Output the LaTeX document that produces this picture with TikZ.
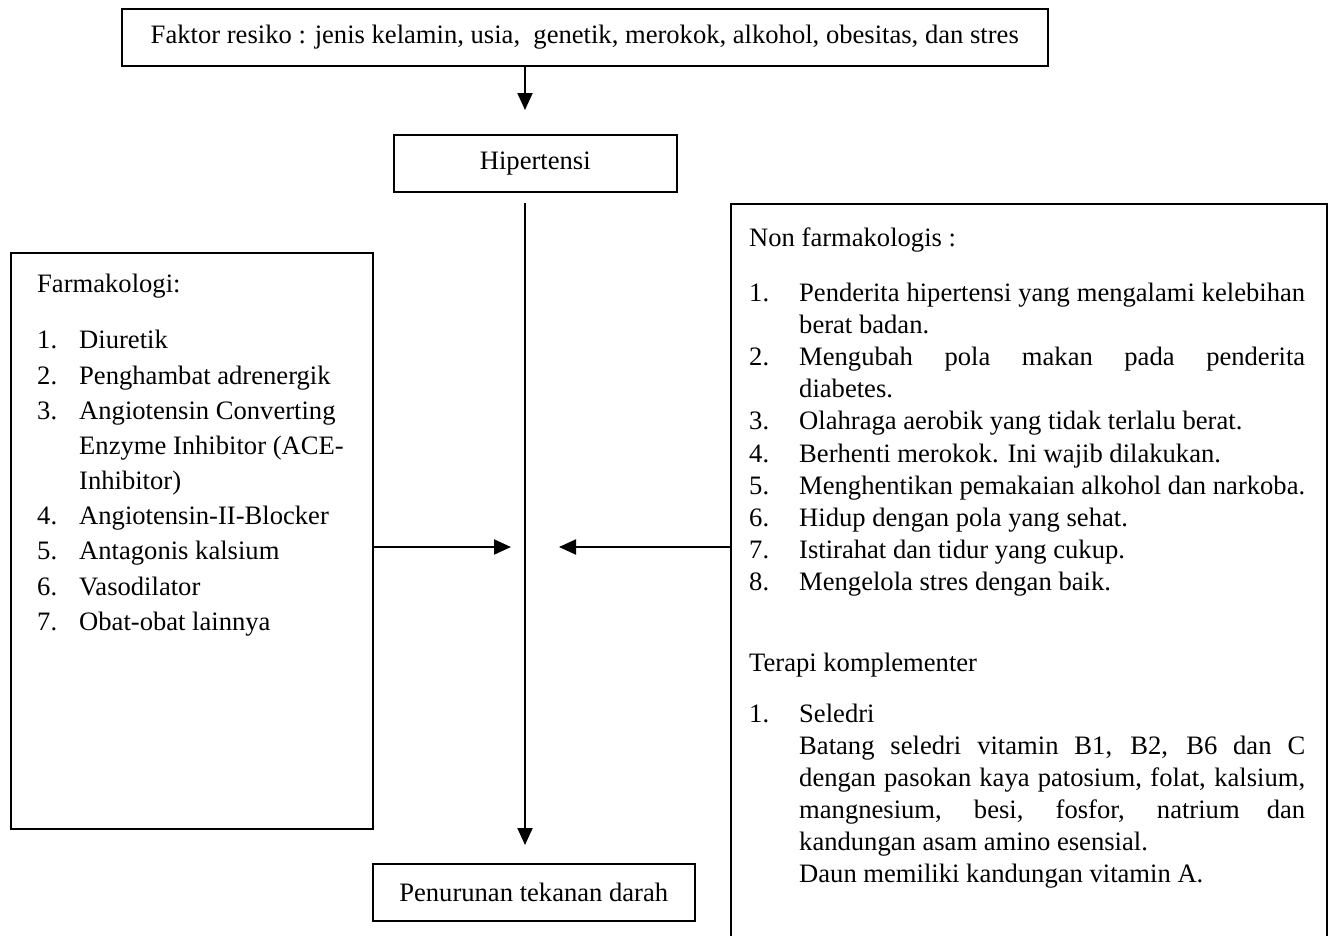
\documentclass[tikz,border=0pt]{standalone}
\usepackage{fontspec}
\setmainfont{Liberation Serif}
\usetikzlibrary{positioning,arrows.meta}
\tikzset{
  box/.style={rectangle, draw=black, line width=1.5pt, inner sep=0pt, anchor=north west, font=\fontsize{26.6}{32}\selectfont},
  txt/.style={anchor=base west, inner sep=0pt, font=\fontsize{26.6}{32}\selectfont},
  arr/.style={draw=black, line width=2pt, -{Triangle[length=17pt,width=15pt]}}
}
\begin{document}
\begin{tikzpicture}[x=1pt, y=-1pt]
  \useasboundingbox (0,0) rectangle (1333,935);
  % boxes
  \node[box, minimum width=926pt, minimum height=57pt] (risk) at (121,8) {Faktor resiko : jenis kelamin, usia,\ \ genetik, merokok, alkohol, obesitas, dan stres};
  \node[box, minimum width=283pt, minimum height=57pt] (hip) at (393,134) {Hipertensi};
  \node[box, minimum width=362pt, minimum height=576pt] (farm) at (10,252) {};
  \node[box, minimum width=596pt, minimum height=760pt] (nonf) at (730,203) {};
  \node[box, minimum width=322pt, minimum height=57pt] (pen) at (372,863) {Penurunan tekanan darah};
  % arrows
  \coordinate (tip1) at (525,110);
  \coordinate (vtop) at (525,203);
  \coordinate (vbot) at (525,845);
  \coordinate (lin) at (511,547);
  \coordinate (rin) at (559,547);
  \draw[arr] (risk.south -| tip1) -- (tip1);
  \draw[arr] (vtop) -- (vbot);
  \draw[arr] (farm.east |- lin) -- (lin);
  \draw[arr] (nonf.west |- rin) -- (rin);
  % farmakologi
  \node[txt] (fhead) at (37,292) {Farmakologi:};
  \foreach \y/\n/\t [count=\i] in {348/1./Diuretik, 384/2./Penghambat adrenergik,
      419/3./Angiotensin Converting, 524/4./Angiotensin-II-Blocker,
      559/5./Antagonis kalsium, 595/6./Vasodilator, 630/7./Obat-obat lainnya} {
    \node[txt] (fn\i) at (37,\y) {\n};
    \node[txt] (ft\i) at (79,\y) {\t};
  }
  \node[txt] (ft3b) at (79,454) {Enzyme Inhibitor (ACE-};
  \node[txt] (ft3c) at (79,489) {Inhibitor)};
  % non farmakologis
  \node[txt] (nhead) at (749,246) {Non farmakologis :};
  \foreach \y/\n [count=\i] in {301/1., 365/2., 429/3., 462/4., 494/5., 526/6., 558/7., 590/8.}
    \node[txt] (nn\i) at (749,\y) {\n};
  \foreach \y/\t [count=\i] in {
      301/{\makebox[506pt][s]{Penderita hipertensi yang mengalami kelebihan}},
      333/berat badan.,
      365/{\makebox[506pt][s]{Mengubah pola makan pada penderita}},
      397/diabetes.,
      429/Olahraga aerobik yang tidak terlalu berat.,
      462/Berhenti merokok. Ini wajib dilakukan.,
      494/Menghentikan pemakaian alkohol dan narkoba.,
      526/Hidup dengan pola yang sehat.,
      558/Istirahat dan tidur yang cukup.,
      590/Mengelola stres dengan baik.}
    \node[txt] (nt\i) at (799,\y) {\t};
  % terapi komplementer
  \node[txt] (thead) at (749,671) {Terapi komplementer};
  \node[txt] (tn1) at (749,722) {1.};
  \foreach \y/\t [count=\i] in {
      722/Seledri,
      754/{\makebox[506pt][s]{Batang seledri vitamin B1, B2, B6 dan C}},
      786/{\makebox[506pt][s]{dengan pasokan kaya patosium, folat, kalsium,}},
      818/{\makebox[506pt][s]{mangnesium, besi, fosfor, natrium dan}},
      850/kandungan asam amino esensial.,
      882/Daun memiliki kandungan vitamin A.}
    \node[txt] (tt\i) at (799,\y) {\t};
\end{tikzpicture}
\end{document}
